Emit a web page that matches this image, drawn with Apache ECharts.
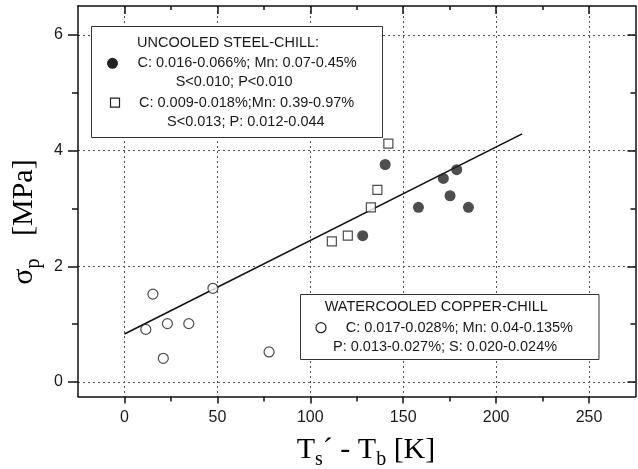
<!DOCTYPE html>
<html>
<head>
<meta charset="utf-8">
<script src="https://cdn.jsdelivr.net/npm/echarts@6/dist/echarts.min.js"></script>
<style>
  html, body { margin: 0; padding: 0; background: #fff; }
  #chart { width: 638px; height: 469px; }
</style>
</head>
<body>
<div id="chart"></div>
<script>
// uncooled steel-chill, filled circles
const steelFilledX = [128.2, 140.3, 158.2, 171.6, 175.2, 178.8, 185.1];
const steelFilledY = [2.53, 3.76, 3.02, 3.52, 3.22, 3.67, 3.02];
// uncooled steel-chill, open squares
const steelOpenX = [111.6, 120.2, 132.6, 136.1, 142.0];
const steelOpenY = [2.43, 2.53, 3.02, 3.32, 4.12];
// watercooled copper-chill, open circles
const copperX = [11.5, 15.3, 20.9, 23.1, 34.6, 47.6, 77.8];
const copperY = [0.91, 1.52, 0.41, 1.01, 1.01, 1.62, 0.52];
// fitted line end points
const fitX = [0, 214];
const fitY = [0.83, 4.29];

const xMajor = [0, 50, 100, 150, 200, 250];
const xMinor = [25, 75, 125, 175, 225];
const yMajor = [0, 2, 4, 6];
const yMinor = [1, 3, 5];

const legendSteel = [
  "UNCOOLED STEEL-CHILL:",
  "C: 0.016-0.066%; Mn: 0.07-0.45%",
  "S<0.010; P<0.010",
  "C: 0.009-0.018%;Mn: 0.39-0.97%",
  "S<0.013; P: 0.012-0.044"
];
const legendCopper = [
  "WATERCOOLED COPPER-CHILL",
  "C: 0.017-0.028%; Mn: 0.04-0.135%",
  "P: 0.013-0.027%; S: 0.020-0.024%"
];

const zip = (xs, ys) => xs.map((x, i) => [x, ys[i]]);

const INK = '#1a1a1a';
const sans = "'Liberation Sans', Arial, sans-serif";
const serif = "'Liberation Serif', 'Times New Roman', serif";

function xAxisDef(pos, ticks, len, inside, withLine, withLabel) {
  return {
    type: 'value', min: -25, max: 275, position: pos,
    axisLine: { show: withLine, onZero: false, lineStyle: { color: '#111', width: 1.5 } },
    axisTick: { show: true, inside: inside, length: len, customValues: ticks,
      lineStyle: { color: '#111', width: 1.5 } },
    axisLabel: { show: withLabel, customValues: ticks, margin: 13,
      fontSize: 16, fontFamily: sans, color: INK },
    splitLine: { show: withLabel, lineStyle: { color: '#555', width: 1, type: [2, 3] } }
  };
}
function yAxisDef(pos, ticks, len, inside, withLine, withLabel) {
  return {
    type: 'value', min: -0.25, max: 6.5, position: pos,
    axisLine: { show: withLine, onZero: false, lineStyle: { color: '#111', width: 1.5 } },
    axisTick: { show: true, inside: inside, length: len, customValues: ticks,
      lineStyle: { color: '#111', width: 1.5 } },
    axisLabel: { show: withLabel, customValues: ticks, margin: 15,
      fontSize: 16, fontFamily: sans, color: INK },
    splitLine: { show: withLabel, lineStyle: { color: '#555', width: 1, type: [2, 3] } }
  };
}

const chart = echarts.init(document.getElementById('chart'), null, { renderer: 'canvas' });

// legend boxes, drawn on top of the plot
const graphics = [];
function addLines(lines, lefts, tops) {
  lines.forEach((t, i) => {
    graphics.push({
      type: 'text', x: lefts[i], y: tops[i], z: 110,
      style: { text: t, font: '14.5px ' + sans, fill: INK,
        align: 'left', verticalAlign: 'middle', textAlign: 'left', textVerticalAlign: 'middle' }
    });
  });
}
graphics.push({ type: 'rect', z: 100, shape: { x: 91.5, y: 26.5, width: 291, height: 111 },
  style: { fill: '#fff', stroke: '#333', lineWidth: 1 } });
addLines(legendSteel, [137, 137.5, 175.7, 139, 167], [43.3, 63.3, 82, 102.7, 121.7]);
graphics.push({ type: 'circle', z: 110, shape: { cx: 112.5, cy: 63.3, r: 5.5 },
  style: { fill: '#222' } });
graphics.push({ type: 'rect', z: 110, shape: { x: 110.5, y: 98.2, width: 9, height: 9 },
  style: { fill: '#fff', stroke: '#222', lineWidth: 1.2 } });

graphics.push({ type: 'rect', z: 100, shape: { x: 300.5, y: 294.5, width: 298.5, height: 65 },
  style: { fill: '#fff', stroke: '#333', lineWidth: 1 } });
addLines(legendCopper, [324.7, 345.7, 333], [307.3, 327.7, 346.7]);
graphics.push({ type: 'circle', z: 110, shape: { cx: 321, cy: 327.7, r: 5 },
  style: { fill: '#fff', stroke: '#222', lineWidth: 1.2 } });

// axis titles
const titleRich = {
  m: { fontFamily: serif, fontSize: 30, lineHeight: 30, padding: [0, 0, 5, 0], verticalAlign: 'bottom', color: INK },
  sub: { fontFamily: serif, fontSize: 20, lineHeight: 20, verticalAlign: 'bottom', color: INK }
};
graphics.push({
  type: 'text', x: 366, y: 455, z: 110,
  style: { text: '{m|T}{sub|s}{m|´ - T}{sub|b}{m| [K]}', rich: titleRich,
    align: 'center', verticalAlign: 'middle', textAlign: 'center', textVerticalAlign: 'middle' }
});
graphics.push({
  type: 'text', x: 29, y: 222, z: 110, rotation: Math.PI / 2,
  style: { text: '{m|σ}{sub|p}{m|   [MPa]}', rich: titleRich,
    align: 'center', verticalAlign: 'middle', textAlign: 'center', textVerticalAlign: 'middle' }
});

const option = {
  backgroundColor: '#fff',
  animation: false,
  grid: { left: 78, right: 2.5, top: 6, bottom: 72.5, containLabel: false, outerBoundsMode: 'none' },
  xAxis: [
    xAxisDef('bottom', xMajor, 7, false, true, true),
    xAxisDef('bottom', xMinor, 5, false, false, false),
    xAxisDef('top', xMajor, 8, true, true, false),
    xAxisDef('top', xMinor, 4, true, false, false)
  ],
  yAxis: [
    yAxisDef('left', yMajor, 10, false, true, true),
    yAxisDef('left', yMinor, 6, false, false, false),
    yAxisDef('right', yMajor, 8, true, true, false),
    yAxisDef('right', yMinor, 5, true, false, false)
  ],
  series: [
    {
      name: 'fit', type: 'line', data: zip(fitX, fitY), symbol: 'none',
      lineStyle: { color: '#111', width: 1.6 }, z: 3
    },
    {
      name: 'steel filled', type: 'scatter', data: zip(steelFilledX, steelFilledY),
      symbol: 'circle', symbolSize: 11, itemStyle: { color: '#222' }, z: 4
    },
    {
      name: 'steel open', type: 'scatter', data: zip(steelOpenX, steelOpenY),
      symbol: 'rect', symbolSize: 9,
      itemStyle: { color: '#fff', borderColor: '#222', borderWidth: 1.2 }, z: 4
    },
    {
      name: 'copper', type: 'scatter', data: zip(copperX, copperY),
      symbol: 'circle', symbolSize: 10,
      itemStyle: { color: '#fff', borderColor: '#222', borderWidth: 1.2 }, z: 4
    }
  ],
  graphic: graphics
};
chart.setOption(option);
</script>
</body>
</html>
